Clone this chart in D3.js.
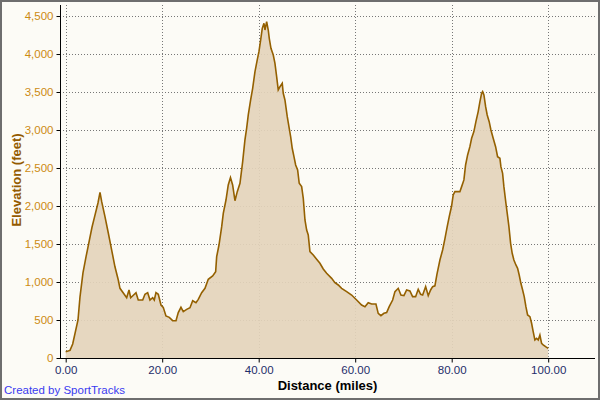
<!DOCTYPE html>
<html><head><meta charset="utf-8">
<script src="https://cdn.jsdelivr.net/npm/d3@7"></script>
<style>html,body{margin:0;padding:0;background:#fff}svg{display:block}</style>
</head><body>
<script>
const distance = [0.0,0.89,1.45,2.55,2.96,3.58,4.21,4.62,5.45,6.07,6.69,7.11,7.46,8.14,8.83,9.53,10.21,10.90,11.25,12.64,13.12,13.47,14.57,15.04,15.96,16.43,16.99,17.47,18.03,18.36,18.71,19.19,19.75,20.22,20.78,21.47,22.17,22.86,23.33,23.89,24.37,25.07,25.76,26.32,27.00,27.48,28.18,28.87,29.55,30.46,31.08,31.29,31.77,32.33,32.66,33.22,33.69,34.15,34.60,35.08,35.56,36.12,36.68,37.15,37.50,37.84,38.33,38.75,39.23,39.70,40.05,40.41,40.74,41.09,41.30,41.65,41.98,42.19,42.54,43.02,43.37,43.72,44.05,44.41,44.88,45.09,45.44,45.92,46.33,46.62,46.95,47.31,47.66,48.07,48.40,48.90,49.24,49.59,49.94,50.27,50.62,51.31,52.01,52.69,53.38,54.08,55.12,55.80,56.49,57.19,58.23,59.26,60.30,61.33,62.02,62.70,63.41,64.30,64.77,65.33,65.95,66.52,67.05,67.76,68.24,68.92,69.48,70.10,70.66,71.34,71.90,72.52,73.06,73.56,73.98,74.60,75.14,75.63,76.05,76.52,76.94,77.56,78.12,78.60,79.07,79.49,79.98,80.31,80.67,81.70,82.06,82.53,82.88,83.30,83.77,84.13,84.60,85.02,85.49,85.85,86.20,86.41,86.68,87.03,87.36,87.77,88.13,88.60,89.10,89.51,89.99,90.20,90.55,90.82,91.24,91.51,91.86,92.21,92.54,92.89,93.31,93.66,93.99,94.34,94.70,95.03,95.38,95.73,96.21,96.56,96.89,97.24,97.60,97.93,98.28,98.63,98.96,99.46,100.0];
const elevation = [83,100,184,500,800,1120,1330,1460,1720,1880,2040,2180,2057,1860,1645,1420,1200,1026,917,793,895,793,860,763,763,838,860,763,793,763,860,838,697,667,553,535,491,491,597,667,610,640,662,754,728,772,860,917,1035,1079,1136,1333,1487,1728,1904,2079,2277,2375,2277,2070,2189,2299,2583,2869,3023,3198,3395,3549,3768,3922,4031,4185,4338,4404,4316,4426,4316,4207,4075,3987,3877,3702,3527,3570,3614,3483,3395,3175,3023,2913,2760,2649,2540,2474,2299,2255,2100,1816,1684,1619,1399,1355,1299,1246,1171,1114,1048,991,961,917,873,829,763,697,675,728,711,711,588,557,588,597,675,763,873,917,829,820,895,882,807,807,904,838,829,939,820,895,939,950,1100,1290,1421,1570,1728,1860,2000,2145,2189,2189,2255,2343,2540,2672,2781,2891,2979,3110,3242,3373,3483,3505,3461,3307,3198,3110,3000,2891,2781,2649,2628,2517,2430,2255,2036,1904,1728,1509,1378,1290,1224,1180,1092,983,895,807,675,566,544,457,346,237,259,237,303,193,171,149,127];
const xTicks = [0,20,40,60,80,100];
const yTicks = [0,500,1000,1500,2000,2500,3000,3500,4000,4500];
const xTitle = "Distance (miles)";
const yTitle = "Elevation (feet)";
const credit = "Created by SportTracks";

const W = 600, H = 400;
const pL = 60, pR = 595, pT = 5, pB = 358;
const svg = d3.select("body").append("svg").attr("width", W).attr("height", H);
svg.append("rect").attr("x",1).attr("y",1).attr("width",W-2).attr("height",H-2)
  .attr("fill","#fcfbf6").attr("stroke","#6e6e6e").attr("stroke-width",2);

const x = d3.scaleLinear().domain([-1.18, 109.7]).range([pL, pR]);
const y = d3.scaleLinear().domain([0, 4645]).range([pB, pT]);
const data = distance.map((d,i)=>({d, e: elevation[i]}));

const font = "'Liberation Sans', Arial, sans-serif";

// grid
const grid = svg.append("g").attr("stroke","#777").attr("stroke-width",1).attr("stroke-dasharray","1,2");
grid.selectAll("line.h").data(yTicks.filter(v=>v>0)).join("line").attr("class","h")
  .attr("x1",pL).attr("x2",pR).attr("y1",d=>Math.round(y(d))+0.5).attr("y2",d=>Math.round(y(d))+0.5);
grid.selectAll("line.v").data(xTicks).join("line").attr("class","v")
  .attr("y1",pT).attr("y2",pB).attr("x1",d=>Math.round(x(d))+0.5).attr("x2",d=>Math.round(x(d))+0.5);

// area + line
svg.append("path").datum(data)
  .attr("d", d3.area().x(p=>x(p.d)).y0(y(0)).y1(p=>y(p.e)))
  .attr("fill","#e4d4bb").attr("fill-opacity",0.92);
svg.append("path").datum(data)
  .attr("d", d3.line().x(p=>x(p.d)).y(p=>y(p.e)))
  .attr("fill","none").attr("stroke","#946000").attr("stroke-width",1.6).attr("stroke-linejoin","miter");

// axes
const yAxis = svg.append("g").attr("transform",`translate(${pL+0.5},0)`)
  .call(d3.axisLeft(y).tickValues(yTicks).tickSize(4).tickPadding(3).tickFormat(d3.format(",")));
yAxis.select(".domain").attr("d",`M0,${pT}V${pB+0.5}`).attr("stroke","#000");
yAxis.selectAll(".tick line").attr("stroke","#000");
yAxis.selectAll(".tick text").attr("fill","#cc8a12").attr("font-family",font).attr("font-size",11.5);

const xAxis = svg.append("g").attr("transform",`translate(0,${pB+0.5})`)
  .call(d3.axisBottom(x).tickValues(xTicks).tickSize(4).tickPadding(3).tickFormat(d3.format(".2f")));
xAxis.select(".domain").attr("d",`M${pL},0H${pR}`).attr("stroke","#000");
xAxis.selectAll(".tick line").attr("stroke","#000");
xAxis.selectAll(".tick text").attr("fill","#1e2d6a").attr("font-family",font).attr("font-size",11.5);

// titles
svg.append("text").attr("x",(pL+pR)/2).attr("y",390).attr("text-anchor","middle")
  .attr("font-family",font).attr("font-weight","bold").attr("font-size",13).attr("fill","#000").text(xTitle);
svg.append("text").attr("transform","translate(21,180) rotate(-90)").attr("text-anchor","middle")
  .attr("font-family",font).attr("font-weight","bold").attr("font-size",13).attr("fill","#935a00").text(yTitle);
svg.append("text").attr("x",4).attr("y",394).attr("font-family",font).attr("font-size",11.5)
  .attr("fill","#3a3af0").text(credit);
</script>
</body></html>
